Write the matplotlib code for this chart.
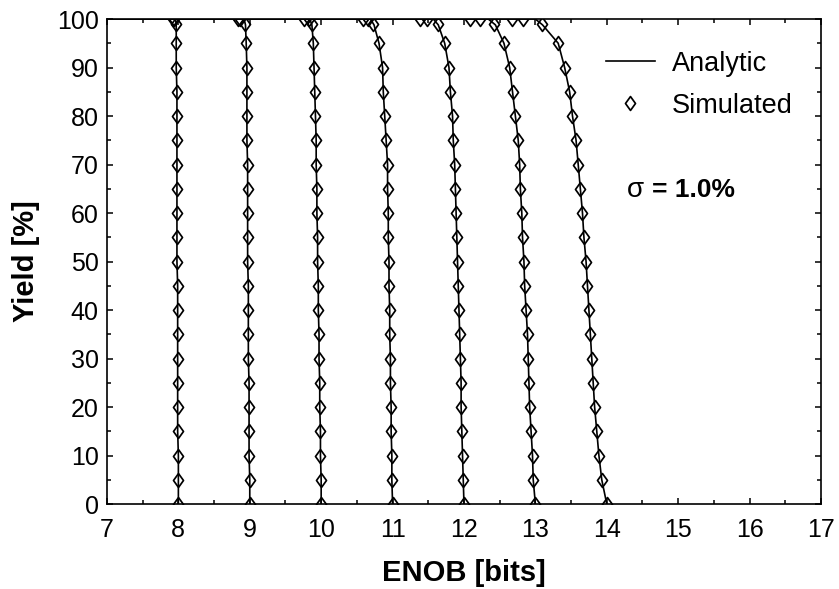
import matplotlib
matplotlib.use("Agg")
import matplotlib.pyplot as plt
from matplotlib.path import Path
from matplotlib.ticker import MultipleLocator

plt.rcParams['font.family'] = ['Liberation Sans', 'DejaVu Sans']

# ---- data ----
yield_levels = [0, 5, 10, 15, 20, 25, 30, 35, 40, 45, 50, 55, 60, 65, 70, 75, 80, 85, 90, 95]

enob_8 = [8.00, 8.00, 8.00, 7.99, 7.99, 7.99, 7.99, 7.99, 7.99, 7.99, 7.98, 7.98, 7.98, 7.98, 7.98, 7.98, 7.98, 7.98, 7.97, 7.97]
enob_9 = [9.00, 9.00, 8.99, 8.99, 8.99, 8.99, 8.98, 8.98, 8.98, 8.98, 8.97, 8.97, 8.97, 8.97, 8.97, 8.96, 8.96, 8.96, 8.96, 8.95]
enob_10 = [10.00, 10.00, 9.99, 9.99, 9.98, 9.98, 9.97, 9.97, 9.96, 9.96, 9.95, 9.95, 9.94, 9.94, 9.93, 9.93, 9.92, 9.91, 9.90, 9.89]
enob_11 = [11.00, 10.99, 10.99, 10.98, 10.98, 10.97, 10.97, 10.96, 10.96, 10.95, 10.95, 10.94, 10.94, 10.93, 10.93, 10.91, 10.89, 10.87, 10.86, 10.81]
enob_12 = [12.00, 11.99, 11.98, 11.97, 11.96, 11.96, 11.95, 11.94, 11.93, 11.92, 11.91, 11.90, 11.89, 11.88, 11.87, 11.85, 11.84, 11.81, 11.79, 11.73]
enob_13 = [13.00, 12.97, 12.96, 12.94, 12.92, 12.91, 12.90, 12.89, 12.87, 12.85, 12.84, 12.82, 12.81, 12.79, 12.78, 12.76, 12.72, 12.68, 12.64, 12.56]
enob_14 = [14.00, 13.93, 13.89, 13.86, 13.83, 13.81, 13.79, 13.77, 13.75, 13.73, 13.71, 13.68, 13.66, 13.63, 13.60, 13.57, 13.52, 13.48, 13.41, 13.32]

# simulated points near / at 100 % yield
top_sim_x = {
    8: [7.97, 7.94, 7.92],
    9: [8.93, 8.86, 8.84],
    10: [9.87, 9.83, 9.76],
    11: [10.73, 10.66, 10.59],
    12: [11.64, 11.48, 11.38],
    13: [12.42, 12.22, 12.08],
    14: [13.09, 12.83, 12.67],
}
top_sim_y = [99, 100, 100]

# analytic curve: where it bends into 100 %
top_ana_x = {8: [7.97, 7.96], 9: [8.94, 8.92], 10: [9.87, 9.84], 11: [10.74, 10.69],
             12: [11.64, 11.57], 13: [12.44, 12.34], 14: [13.10, 13.00]}
top_ana_y = [98.8, 100]

curves = {8: enob_8, 9: enob_9, 10: enob_10, 11: enob_11, 12: enob_12, 13: enob_13, 14: enob_14}

x_ticks = [7, 8, 9, 10, 11, 12, 13, 14, 15, 16, 17]
y_ticks = [0, 10, 20, 30, 40, 50, 60, 70, 80, 90, 100]

# ---- figure ----
fig = plt.figure(figsize=(8.39, 5.89), dpi=100)
ax = fig.add_axes([0.1275, 0.1443, 0.8510, 0.8234])

diamond = Path([(0, 1), (0.72, 0), (0, -1), (-0.72, 0), (0, 1)],
               [Path.MOVETO, Path.LINETO, Path.LINETO, Path.LINETO, Path.CLOSEPOLY])

for i, (n, xs) in enumerate(curves.items()):
    ax_x = list(xs) + top_ana_x[n] + [7.0]
    ax_y = list(yield_levels) + top_ana_y + [100]
    ax.plot(ax_x, ax_y, color='black', lw=1.2, zorder=2,
            label='Analytic' if i == 0 else None)
for i, (n, xs) in enumerate(curves.items()):
    sx = list(xs) + top_sim_x[n]
    sy = list(yield_levels) + top_sim_y
    ax.plot(sx, sy, linestyle='none', marker=diamond, markersize=10,
            markerfacecolor='none', markeredgecolor='black', markeredgewidth=1.25,
            zorder=3, label='Simulated' if i == 0 else None)

ax.set_xlim(7, 17)
ax.set_ylim(0, 100)
ax.set_xticks(x_ticks)
ax.set_yticks(y_ticks)
ax.xaxis.set_minor_locator(MultipleLocator(0.5))
ax.yaxis.set_minor_locator(MultipleLocator(5))
ax.tick_params(which='both', direction='in', top=True, right=True, width=1.1)
ax.tick_params(which='major', length=4.5, labelsize=18)
ax.tick_params(axis='x', which='major', pad=10)
ax.tick_params(axis='y', which='major', pad=6)
ax.tick_params(which='minor', length=3)
for s in ax.spines.values():
    s.set_linewidth(1.2)

ax.set_xlabel('ENOB [bits]', fontsize=21, fontweight='bold', labelpad=12)
ax.set_ylabel('Yield [%]', fontsize=21, fontweight='bold', labelpad=12)

leg = ax.legend(loc='upper left', bbox_to_anchor=(0.699, 0.935), frameon=False,
                fontsize=19.5, handlelength=1.8, labelspacing=0.6, handletextpad=0.63,
                borderaxespad=0.0, borderpad=0.0)

ax.text(0.728, 0.647, '\u03c3', transform=ax.transAxes, fontsize=20,
        ha='left', va='center')
ax.text(0.764, 0.647, '= 1.0%', transform=ax.transAxes, fontsize=19,
        fontweight='bold', ha='left', va='center')

fig.savefig('out.png', dpi=100)
